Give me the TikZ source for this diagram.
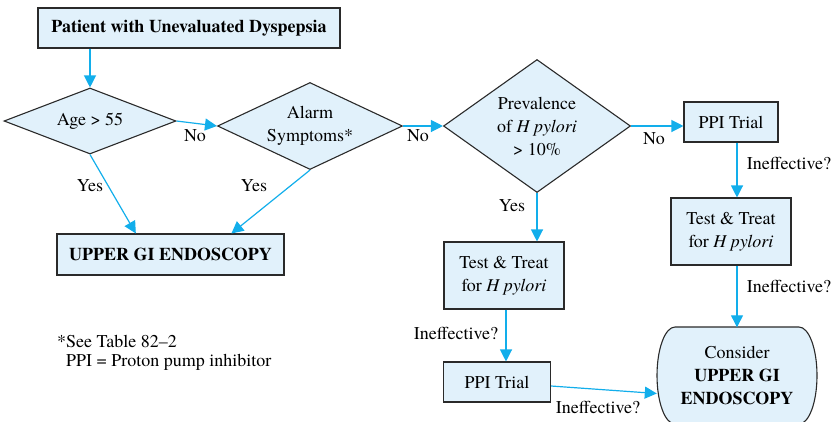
\documentclass[tikz,border=0pt]{standalone}
\usepackage{fontspec}
\setmainfont{texgyretermes}[Extension=.otf, UprightFont=*-regular, BoldFont=*-bold, ItalicFont=*-italic, BoldItalicFont=*-bolditalic]
\usetikzlibrary{shapes.geometric,arrows.meta,calc}
\definecolor{boxfill}{HTML}{E1F1FB}
\definecolor{arrowc}{HTML}{12AEEB}
\definecolor{edgec}{HTML}{2A2A2A}
\tikzset{
  base/.style={draw=edgec, fill=boxfill, line width=1.1pt, inner sep=0pt, align=center, font=\fontsize{18}{23}\selectfont},
  rbox/.style={base, rectangle},
  dmd/.style={base, diamond},
  ovaltext/.style={rectangle, inner sep=0pt, align=center, font=\fontsize{18}{23}\selectfont},
  conn/.style={draw=arrowc, line width=1.2pt, -{Triangle[length=12pt,width=12pt]}},
  lbl/.style={inner sep=0pt, font=\fontsize{18}{23}\selectfont, text height=12pt, text depth=4pt},
  note/.style={inner sep=0pt, anchor=west, font=\fontsize{18}{23}\selectfont}
}
\begin{document}
\begin{tikzpicture}[x=1pt,y=-1pt]
\useasboundingbox (0,0) rectangle (840,421);
% oval background (consider)
\coordinate (cc) at (737,375.5);
\draw[draw=edgec, fill=boxfill, line width=1.1pt]
  ($(cc)+(-62,-48.5)$) -- ($(cc)+(62,-48.5)$)
  arc[start angle=90, end angle=-90, x radius=18pt, y radius=48.5pt]
  -- ($(cc)+(-62,48.5)$)
  arc[start angle=270, end angle=90, x radius=18pt, y radius=48.5pt] -- cycle;
% nodes
\node[rbox, minimum width=302pt, minimum height=40pt, font=\fontsize{18}{23}\selectfont\bfseries] (top) at (189,28) {Patient with Unevaluated Dyspepsia};
\node[dmd, minimum width=172pt, minimum height=66pt, aspect=2.6] (age) at (90,121) {Age > 55};
\node[dmd, minimum width=185pt, minimum height=87pt, aspect=2.1] (alarm) at (310,126) {Alarm\\Symptoms*};
\node[dmd, minimum width=187pt, minimum height=133pt, aspect=1.4] (prev) at (537,126) {Prevalence\\of \textit{H pylori}\\> 10\%};
\node[rbox, minimum width=94pt, minimum height=40pt] (ppia) at (731,122) {PPI Trial};
\node[rbox, minimum width=120pt, minimum height=67pt] (testb) at (731,231.5) {Test \& Treat\\for \textit{H pylori}};
\node[ovaltext, minimum width=160pt, minimum height=97pt] (cons) at (cc) {Consider\\\textbf{UPPER GI}\\\textbf{ENDOSCOPY}};
\node[rbox, minimum width=227pt, minimum height=41pt, font=\fontsize{18}{23}\selectfont\bfseries] (upper) at (170.5,254.5) {UPPER GI ENDOSCOPY};
\node[rbox, minimum width=120pt, minimum height=67pt] (testa) at (504,275.5) {Test \& Treat\\for \textit{H pylori}};
\node[rbox, minimum width=107pt, minimum height=40pt] (ppib) at (497,382) {PPI Trial};
% connectors
\draw[conn] (age.north |- top.south) -- (age.north);
\draw[conn] (age.east) -- (alarm.west);
\draw[conn] (alarm.east) -- (prev.west);
\draw[conn] (prev.east) -- (prev.east -| ppia.west);
\draw[conn] (age.south) -- ($(upper.north west)!0.348!(upper.north east)$);
\draw[conn] (alarm.south) -- ($(upper.north west)!0.767!(upper.north east)$);
\draw[conn] (prev.south) -- (prev.south |- testa.north);
\draw[conn] ([xshift=2pt]testa.south) -- ([xshift=2pt]testa.south |- ppib.north);
\draw[conn] ([yshift=-4pt]ppib.east) -- ([yshift=-18pt]cons.west);
\draw[conn] (ppia.south -| cons.north) -- (testb.north -| cons.north);
\draw[conn] (testb.south -| cons.north) -- ([yshift=-0.5pt]cons.north);
% labels
\node[lbl] (no1) at (195,137) {No};
\node[lbl] (no2) at (418,137) {No};
\node[lbl] (no3) at (654,140) {No};
\node[lbl] (yes1) at (90,187) {Yes};
\node[lbl] (yes2) at (254,187) {Yes};
\node[lbl] (yes3) at (512,207) {Yes};
\node[lbl] (in1) at (789,165) {Ineffective?};
\node[lbl] (in2) at (789,288) {Ineffective?};
\node[lbl] (in3) at (456,335) {Ineffective?};
\node[lbl] (in4) at (598,409) {Ineffective?};
\node[note] (fn1) at (57,341) {*See Table 82--2};
\node[note] (fn2) at (66,362) {PPI = Proton pump inhibitor};
\end{tikzpicture}
\end{document}
